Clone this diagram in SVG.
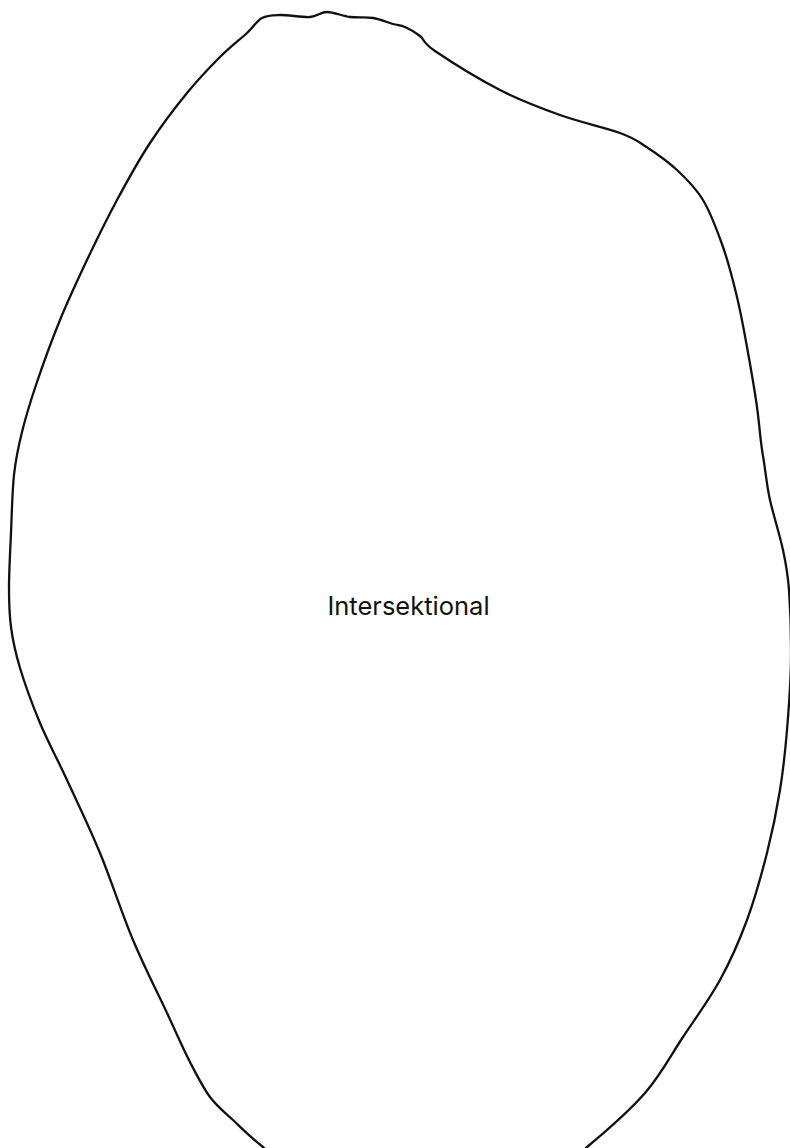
<svg xmlns="http://www.w3.org/2000/svg" width="790" height="1148" viewBox="0 0 790 1148">
<style>
.blob{fill:#ffffff;stroke:#111111;stroke-width:2.3;stroke-linejoin:round}
.lbl{font-family:Inter,"Noto Sans",sans-serif;font-size:25.5px;fill:#111111;text-anchor:middle}
</style>
<rect width="790" height="1148" fill="#ffffff"/>
<g id="intersektional">
<path class="blob" d="M247,33 C254,26.5 256.5,21 262,18 C267.5,15 272,15.2 280,15 C288,14.8 302.2,17.5 310,17 C317.8,16.5 320.3,12 327,12 C333.7,12 342.3,16 350,17 C357.7,18 365.8,16.8 373,18 C380.2,19.2 387.7,22.5 393,24 C398.3,25.5 400.5,25 405,27 C409.5,29 415,32 420,36 C425,40 421.7,42 435,51 C448.3,60 479.2,79.3 500,90 C520.8,100.7 540,107.8 560,115 C580,122.2 605.8,127.8 620,133 C634.2,138.2 635.5,139.8 645,146 C654.5,152.2 667.3,161 677,170 C686.7,179 695.3,187.2 703,200 C710.7,212.8 717.3,230.8 723,247 C728.7,263.2 733,280.3 737,297 C741,313.7 743.7,328.7 747,347 C750.3,365.3 754.5,388.7 757,407 C759.5,425.3 760.3,440.5 763,456 C765.7,471.5 766.5,484.5 770,500 C773.5,515.5 779.8,535 783,550 C786.2,565 787.7,571.7 789,590 C790.3,608.3 791.3,636.7 791,660 C790.7,683.3 788.8,708.3 787,730 C785.2,751.7 783.3,769.5 780,790 C776.7,810.5 772.5,831.3 767,853 C761.5,874.7 754.8,898.8 747,920 C739.2,941.2 730.7,960.5 720,980 C709.3,999.5 695.5,1018.2 683,1037 C670.5,1055.8 661,1074.7 645,1093 C629,1111.3 604.5,1132.5 587,1147 L570,1165 L280,1165 L263,1147 C250.2,1137 241.8,1128.3 233,1120 C224.2,1111.7 217.2,1106.7 210,1097 C202.8,1087.3 197.2,1076 190,1062 C182.8,1048 176.5,1033.3 167,1013 C157.5,992.7 144.2,966.7 133,940 C121.8,913.3 111,879.7 100,853 C89,826.3 77,801.7 67,780 C57,758.3 47.8,741.7 40,723 C32.2,704.3 24.8,684 20,668 C15.2,652 12.8,640.5 11,627 C9.2,613.5 9,602.7 9,587 C9,571.3 10.2,551.7 11,533 C11.8,514.3 12.2,491.8 14,475 C15.8,458.2 18.3,447 22,432 C25.7,417 29.7,403.7 36,385 C42.3,366.3 51.5,340.8 60,320 C68.5,299.2 77.5,280 87,260 C96.5,240 106.5,219.5 117,200 C127.5,180.5 138.3,160.8 150,143 C161.7,125.2 175.3,107.3 187,93 C198.7,78.7 210,67 220,57 C230,47 240,39.5 247,33 Z"/>
<text class="lbl" x="408.5" y="615">Intersektional</text>
</g>
</svg>
